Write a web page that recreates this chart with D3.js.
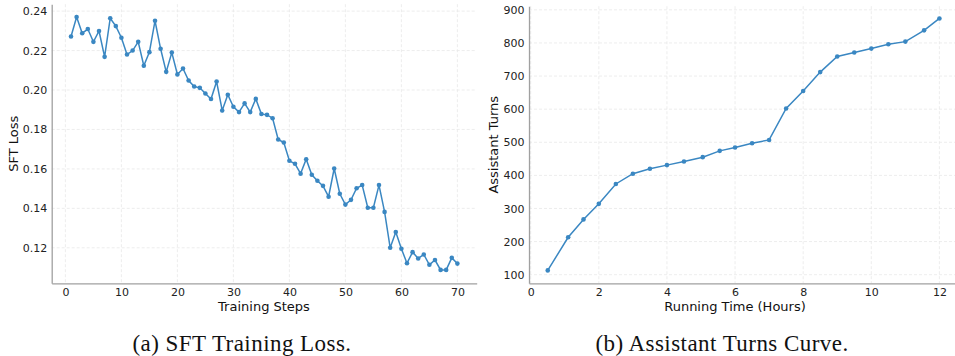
<!DOCTYPE html>
<html>
<head>
<meta charset="utf-8">
<script src="https://cdn.jsdelivr.net/npm/d3@7"></script>
<style>
  body { margin: 0; background: #fff; }
  .tick text { font-family: "DejaVu Sans", sans-serif; font-size: 11px; fill: #222; }
  .axlabel { font-family: "DejaVu Sans", sans-serif; font-size: 13px; fill: #111; }
  .caption { font-family: "Liberation Serif", "Times New Roman", serif; font-size: 23px; letter-spacing: 0.45px; fill: #111; }
</style>
</head>
<body>
<div id="main"></div>
<script>
// Width and height
var w = 955;
var h = 356;
var lineColor = "#3a87c2";

// (a) SFT training loss, steps 1..70
var lossSteps = d3.range(1, 71);
var lossValues = [
  0.2271, 0.2370, 0.2288, 0.2309, 0.2244, 0.2299, 0.2168, 0.2364, 0.2324, 0.2265,
  0.2180, 0.2200, 0.2244, 0.2123, 0.2192, 0.2351, 0.2209, 0.2092, 0.2190, 0.2079,
  0.2109, 0.2048, 0.2018, 0.2011, 0.1982, 0.1954, 0.2043, 0.1896, 0.1976, 0.1915,
  0.1888, 0.1932, 0.1888, 0.1955, 0.1878, 0.1874, 0.1857, 0.1749, 0.1734, 0.1641,
  0.1626, 0.1576, 0.1649, 0.1570, 0.1540, 0.1514, 0.1459, 0.1602, 0.1474, 0.1419,
  0.1443, 0.1502, 0.1518, 0.1403, 0.1403, 0.1518, 0.1382, 0.1200, 0.1280, 0.1195,
  0.1122, 0.1178, 0.1146, 0.1166, 0.1114, 0.1138, 0.1088, 0.1088, 0.1149, 0.1120
];
var lossXTicks = [0, 10, 20, 30, 40, 50, 60, 70];
var lossYTicks = [0.12, 0.14, 0.16, 0.18, 0.20, 0.22, 0.24];

// (b) assistant turns vs running time (hours)
var turnHours = [0.5, 1.1, 1.55, 2.0, 2.5, 3.0, 3.5, 4.0, 4.5, 5.05, 5.55, 6.0,
                 6.5, 7.0, 7.5, 8.0, 8.5, 9.0, 9.5, 10.0, 10.5, 11.0, 11.55, 12.0];
var turnCounts = [113, 213, 267, 314, 374, 405, 420, 431, 442, 455, 474, 484,
                  497, 507, 602, 655, 712, 759, 771, 783, 796, 804, 838, 874];
var turnXTicks = [0, 2, 4, 6, 8, 10, 12];
var turnYTicks = [100, 200, 300, 400, 500, 600, 700, 800, 900];

var svg = d3.select("#main")
  .append("svg")
  .attr("width", w)
  .attr("height", h)
  .style("display", "block");

// draw one panel: left/right/top/bottom = pixel box of the axes
function panel(opts) {
  var xs = opts.xs, ys = opts.ys;
  var data = xs.map(function(d, i) { return [d, ys[i]]; });

  var x = d3.scaleLinear().domain(opts.xDomain).range([opts.left, opts.right]);
  var y = d3.scaleLinear().domain(opts.yDomain).range([opts.bottom, opts.top]);

  var g = svg.append("g");

  // grid
  g.selectAll(".vgrid")
    .data(opts.xTicks)
    .enter().append("line")
    .attr("x1", function(d) { return x(d); })
    .attr("x2", function(d) { return x(d); })
    .attr("y1", opts.top)
    .attr("y2", opts.bottom)
    .attr("stroke", "#e9e9e9")
    .attr("stroke-width", 0.8)
    .attr("stroke-dasharray", "3,2");

  g.selectAll(".hgrid")
    .data(opts.yTicks)
    .enter().append("line")
    .attr("x1", opts.left)
    .attr("x2", opts.right)
    .attr("y1", function(d) { return y(d); })
    .attr("y2", function(d) { return y(d); })
    .attr("stroke", "#e9e9e9")
    .attr("stroke-width", 0.8)
    .attr("stroke-dasharray", "3,2");

  // axes
  var xAxis = g.append("g")
    .attr("transform", "translate(0," + opts.bottom + ")")
    .call(d3.axisBottom(x).tickValues(opts.xTicks).tickSize(0).tickPadding(4.5)
      .tickFormat(opts.xFormat));
  var yAxis = g.append("g")
    .attr("transform", "translate(" + opts.left + ",0)")
    .call(d3.axisLeft(y).tickValues(opts.yTicks).tickSize(0).tickPadding(4.5)
      .tickFormat(opts.yFormat));

  [xAxis, yAxis].forEach(function(a) {
    a.select(".domain").attr("stroke", "#a0a0a0").attr("stroke-width", 1.3);
  });

  // line and markers
  g.append("path")
    .datum(data)
    .attr("fill", "none")
    .attr("stroke", lineColor)
    .attr("stroke-width", 1.5)
    .attr("d", d3.line()
      .x(function(d) { return x(d[0]); })
      .y(function(d) { return y(d[1]); }));

  g.selectAll(".dot")
    .data(data)
    .enter().append("circle")
    .attr("cx", function(d) { return x(d[0]); })
    .attr("cy", function(d) { return y(d[1]); })
    .attr("r", 2.3)
    .style("fill", lineColor);

  // labels
  g.append("text")
    .attr("class", "axlabel")
    .attr("x", opts.xLabelX)
    .attr("y", 311)
    .attr("text-anchor", "middle")
    .text(opts.xLabel);

  g.append("text")
    .attr("class", "axlabel")
    .attr("transform", "translate(" + opts.yLabelX + "," + ((opts.top + opts.bottom) / 2) + ") rotate(-90)")
    .attr("text-anchor", "middle")
    .text(opts.yLabel);

  g.append("text")
    .attr("class", "caption")
    .attr("x", opts.captionX)
    .attr("y", 351)
    .attr("text-anchor", "middle")
    .text(opts.caption);
}

panel({
  xs: lossSteps, ys: lossValues,
  xDomain: [-2.45, 73.45], yDomain: [0.102, 0.2435],
  left: 51.7, right: 476.7, top: 4.2, bottom: 283.3,
  xTicks: lossXTicks, yTicks: lossYTicks,
  xFormat: d3.format("d"), yFormat: d3.format(".2f"),
  xLabel: "Training Steps", xLabelX: 264,
  yLabel: "SFT Loss", yLabelX: 18,
  caption: "(a) SFT Training Loss.", captionX: 242
});

panel({
  xs: turnHours, ys: turnCounts,
  xDomain: [-0.05, 12.575], yDomain: [74, 911],
  left: 529, right: 959, top: 6.2, bottom: 283.3,
  xTicks: turnXTicks, yTicks: turnYTicks,
  xFormat: d3.format("d"), yFormat: d3.format("d"),
  xLabel: "Running Time (Hours)", xLabelX: 735,
  yLabel: "Assistant Turns", yLabelX: 498,
  caption: "(b) Assistant Turns Curve.", captionX: 722
});
</script>
</body>
</html>
